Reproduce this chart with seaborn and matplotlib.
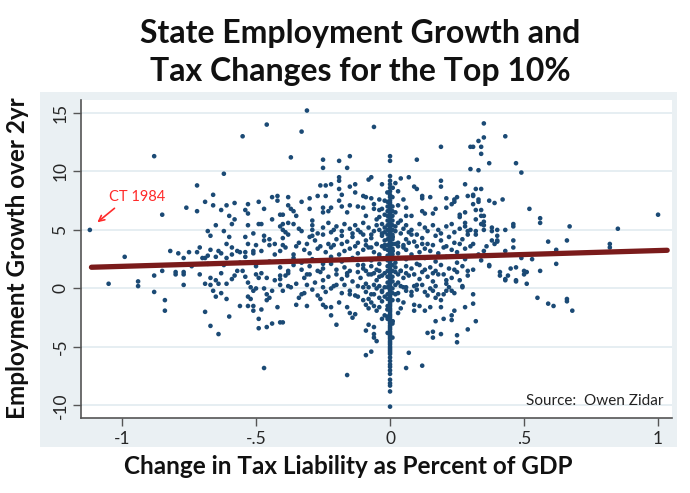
# State employment growth vs. tax changes for the top 10%
# scatter with linear fit, Stata-like look

import numpy as np
import pandas as pd
import matplotlib
matplotlib.use("Agg")
import matplotlib.pyplot as plt
from matplotlib.patches import Rectangle
import seaborn as sns

# ============================================================
# Data
# ============================================================

upper_left = [
    (-0.46, 14.0), (-0.55, 13.0), (-0.88, 11.3), (-0.62, 9.8), (-0.72, 8.8), (-0.66, 8.0),
    (-1.12, 5.0), (-0.85, 6.3), (-0.76, 6.9), (-0.72, 6.6), (-0.69, 7.4), (-0.66, 7.1),
    (-0.63, 6.7), (-0.61, 7.1), (-0.58, 7.3), (-0.60, 6.2), (-0.58, 5.9), (-0.65, 5.4),
    (-0.68, 4.9), (-0.67, 4.5), (-0.62, 4.9), (-0.60, 4.4), (-0.59, 5.5), (-0.99, 2.7),
    (-0.82, 3.2), (-0.79, 3.0), (-0.75, 3.1), (-0.72, 3.1), (-0.71, 3.5), (-0.77, 2.6),
    (-0.69, 2.6), (-0.67, 3.3), (-0.64, 3.2), (-0.61, 3.8), (-0.59, 3.5), (-0.57, 3.2),
    (-0.54, 6.7), (-0.53, 6.4), (-0.53, 7.2), (-0.49, 7.4), (-0.47, 6.8), (-0.44, 7.8),
    (-0.42, 7.9), (-0.42, 7.5), (-0.53, 5.4), (-0.49, 5.5), (-0.48, 5.5), (-0.44, 5.9),
    (-0.51, 4.7), (-0.47, 4.5), (-0.45, 4.2), (-0.43, 3.8), (-0.54, 4.4), (-0.53, 3.8),
    (-0.50, 3.7), (-0.47, 4.1), (-0.54, 3.1), (-0.51, 3.2), (-0.48, 3.2), (-0.45, 3.7),
    (-0.43, 2.9), (-0.40, 5.5), (-0.41, 6.3), (-0.70, 2.6), (-0.68, 2.8), (-0.65, 2.7),
    (-0.63, 3.0), (-0.61, 2.6), (-0.59, 2.9), (-0.56, 3.1), (-0.54, 2.7), (-0.51, 3.0),
    (-0.62, 2.0), (-0.56, 2.2), (-0.50, 1.9), (-0.45, 2.3), (-0.74, 1.9), (-0.68, 2.1),
]

lower_left = [
    (-1.05, 0.4), (-0.94, 0.6), (-0.94, 0.2), (-0.88, 1.1), (-0.85, 1.5), (-0.88, -0.3),
    (-0.84, -1.0), (-0.84, -1.9), (-0.80, 1.4), (-0.80, 1.2), (-0.77, 1.4), (-0.77, 1.2),
    (-0.77, 0.3), (-0.71, 1.2), (-0.69, 0.4), (-0.67, 0.9), (-0.67, 0.3), (-0.66, -0.2),
    (-0.65, -0.7), (-0.63, -0.4), (-0.61, -0.9), (-0.65, 0.7), (-0.64, 0.4), (-0.69, -2.0),
    (-0.67, -3.2), (-0.64, -3.9), (-0.60, -2.4), (-0.63, 1.3), (-0.61, 0.4), (-0.59, 0.8),
    (-0.58, 1.1), (-0.57, 1.5), (-0.55, 1.5), (-0.54, 1.0), (-0.53, 0.5), (-0.52, 0.1),
    (-0.51, -0.2), (-0.53, -0.7), (-0.52, -0.9), (-0.56, -1.5), (-0.53, -1.5), (-0.51, -1.5),
    (-0.51, -1.9), (-0.48, -1.8), (-0.49, -2.6), (-0.49, -3.4), (-0.46, -3.3), (-0.44, -3.0),
    (-0.41, -2.9), (-0.47, -6.8), (-0.46, -1.0), (-0.45, -0.8), (-0.46, -0.5), (-0.44, -0.2),
    (-0.42, -1.6), (-0.47, 0.0), (-0.50, 0.0), (-0.49, 0.9), (-0.46, 0.9), (-0.43, 0.7),
    (-0.41, 0.3), (-0.41, 1.1), (-0.50, 1.2), (-0.48, 1.3),
]

center_upper = [
    (-0.31, 15.2), (-0.33, 13.4), (-0.06, 13.8), (-0.37, 11.2), (-0.25, 11.0), (-0.25, 10.3),
    (-0.19, 10.9), (-0.15, 11.3), (-0.16, 10.3), (0.0, 11.3), (0.0, 10.9), (0.0, 9.6),
    (0.10, 11.0), (0.19, 12.1), (0.30, 12.1), (0.30, 10.2), (-0.19, 9.5), (-0.19, 9.2),
    (-0.07, 9.5), (-0.08, 9.3), (0.04, 9.4), (0.07, 9.5), (0.19, 9.2), (0.19, 8.7),
    (0.28, 8.9), (-0.26, 8.8), (-0.24, 8.8), (-0.22, 8.9), (-0.19, 8.5), (-0.15, 8.7),
    (-0.13, 8.9), (-0.13, 8.2), (-0.24, 7.9), (-0.27, 7.9), (-0.18, 8.0), (-0.10, 7.9),
    (-0.09, 7.8), (-0.07, 7.7), (-0.04, 7.6), (-0.30, 7.7), (-0.38, 7.8), (-0.33, 7.4),
    (0.03, 8.3), (0.10, 8.5), (0.09, 8.7), (0.12, 7.9), (0.12, 7.7), (0.15, 7.8),
    (0.21, 7.7), (0.24, 7.6), (0.25, 7.8), (0.29, 7.9), (0.31, 8.0), (-0.19, 7.5),
    (-0.38, 7.1), (-0.37, 6.8), (-0.36, 6.6), (-0.35, 6.2), (-0.40, 6.3), (-0.38, 5.6),
    (-0.30, 6.8), (-0.29, 5.8), (-0.29, 5.0), (-0.29, 4.5), (-0.25, 6.9), (-0.25, 6.5),
    (-0.23, 6.6), (-0.22, 6.9), (-0.18, 7.0), (-0.15, 7.1), (-0.16, 6.5), (-0.12, 7.0),
    (-0.10, 6.9), (-0.09, 6.2), (-0.06, 6.8), (-0.04, 6.7), (-0.04, 6.1), (-0.02, 6.3),
    (0.06, 6.9), (0.06, 6.2), (0.08, 6.2), (0.12, 6.6), (0.13, 6.4), (0.16, 6.4),
    (0.17, 6.8), (0.21, 6.9), (0.23, 7.2), (0.24, 7.4), (0.26, 6.3), (0.28, 6.5),
    (0.26, 6.1), (0.28, 5.6),
]

center_band = [
    # y ~ 5
    (-0.41, 5.3), (-0.40, 5.0), (-0.36, 5.5), (-0.34, 5.1), (-0.29, 5.4), (-0.25, 5.2),
    (-0.23, 5.6), (-0.21, 5.0), (-0.20, 5.3), (-0.17, 5.5), (-0.15, 5.1), (-0.13, 5.4),
    (-0.12, 5.0), (-0.10, 5.6), (-0.08, 5.2), (-0.05, 5.4), (-0.04, 5.0), (-0.03, 5.5),
    (-0.02, 5.2), (0.02, 5.3), (0.03, 5.6), (0.05, 5.1), (0.06, 5.4), (0.08, 5.0),
    (0.11, 5.5), (0.13, 5.2), (0.16, 5.4), (0.18, 5.0), (0.21, 5.3), (0.23, 5.5),
    (0.26, 5.1), (0.28, 5.3), (0.30, 5.0),
    # y ~ 4.8
    (-0.39, 4.8), (-0.33, 4.9), (-0.27, 4.7), (-0.22, 4.8), (-0.18, 4.9), (-0.14, 4.7),
    (-0.11, 4.8), (-0.07, 4.6), (-0.06, 4.9), (-0.03, 4.7), (-0.02, 4.8), (0.02, 4.9),
    (0.04, 4.7), (0.07, 4.8), (0.10, 4.6), (0.14, 4.9), (0.19, 4.7), (0.24, 4.8),
    (0.29, 4.9),
    # y ~ 4
    (-0.40, 4.3), (-0.38, 4.6), (-0.34, 3.9), (-0.30, 4.4), (-0.28, 4.1), (-0.25, 4.6),
    (-0.23, 3.8), (-0.20, 4.2), (-0.18, 4.5), (-0.16, 4.0), (-0.14, 4.4), (-0.12, 3.9),
    (-0.10, 4.6), (-0.09, 4.1), (-0.07, 4.3), (-0.05, 3.8), (-0.03, 4.5), (-0.02, 4.1),
    (0.01, 4.4), (0.03, 3.9), (0.06, 4.2), (0.08, 4.6), (0.09, 4.0), (0.12, 4.3),
    (0.14, 3.8), (0.17, 4.5), (0.19, 4.1), (0.22, 4.4), (0.24, 3.9), (0.27, 4.2),
    (0.29, 4.6),
    # y ~ 3.7
    (-0.40, 3.7), (-0.35, 3.6), (-0.31, 3.8), (-0.26, 3.6), (-0.21, 3.7), (-0.18, 3.8),
    (-0.13, 3.6), (-0.09, 3.7), (-0.07, 3.5), (-0.05, 3.8), (-0.03, 3.6), (-0.02, 3.7),
    (0.02, 3.8), (0.03, 3.6), (0.05, 3.7), (0.07, 3.9), (0.10, 3.6), (0.12, 3.8),
    (0.16, 3.7), (0.21, 3.6), (0.26, 3.8),
    # y ~ 3
    (-0.41, 3.2), (-0.39, 3.5), (-0.36, 2.9), (-0.32, 3.3), (-0.30, 3.0), (-0.27, 3.4),
    (-0.24, 3.1), (-0.22, 3.5), (-0.19, 2.9), (-0.17, 3.2), (-0.15, 3.4), (-0.12, 3.0),
    (-0.10, 3.3), (-0.08, 3.5), (-0.06, 3.1), (-0.04, 2.9), (-0.02, 3.4), (0.01, 3.2),
    (0.03, 3.0), (0.05, 3.5), (0.06, 3.3), (0.08, 2.9), (0.11, 3.1), (0.13, 3.4),
    (0.15, 3.2), (0.18, 3.0), (0.20, 3.5), (0.23, 3.3), (0.25, 3.1), (0.28, 3.4),
    (0.30, 3.6),
    # y ~ 2.4 (around fit line)
    (-0.36, 2.6), (-0.33, 2.2), (-0.29, 2.5), (-0.25, 2.1), (-0.22, 2.7), (-0.18, 2.3),
    (-0.14, 2.6), (-0.10, 2.0), (-0.07, 2.4), (-0.04, 2.7), (0.02, 2.2), (0.06, 2.5),
    (0.10, 2.1), (0.13, 2.6), (0.17, 2.3), (0.21, 2.7), (0.25, 2.2), (0.28, 2.5),
    # y ~ 1.8
    (-0.41, 1.8), (-0.38, 1.5), (-0.36, 2.0), (-0.33, 1.6), (-0.30, 1.9), (-0.27, 1.5),
    (-0.25, 1.7), (-0.22, 2.1), (-0.20, 1.6), (-0.17, 1.8), (-0.15, 1.5), (-0.12, 2.0),
    (-0.10, 1.7), (-0.09, 1.5), (-0.07, 1.9), (-0.05, 1.6), (-0.04, 2.1), (0.02, 1.8),
    (0.04, 1.5), (0.06, 1.9), (0.08, 1.7), (0.11, 2.0), (0.13, 1.6), (0.15, 1.8),
    (0.17, 1.5), (0.19, 2.0), (0.22, 1.7), (0.24, 1.6), (0.27, 1.9), (0.29, 1.5),
    # y ~ 1.3
    (-0.38, 1.3), (-0.31, 1.2), (-0.26, 1.4), (-0.20, 1.2), (-0.16, 1.3), (-0.12, 1.4),
    (-0.08, 1.2), (-0.06, 1.3), (-0.04, 1.5), (-0.03, 1.1), (-0.02, 1.3), (0.02, 1.4),
    (0.03, 1.2), (0.04, 1.5), (0.06, 1.3), (0.09, 1.2), (0.12, 1.4), (0.16, 1.3),
    (0.20, 1.2), (0.25, 1.4),
    # y ~ 0.8
    (-0.41, 0.8), (-0.39, 1.1), (-0.35, 0.4), (-0.32, 0.9), (-0.30, 1.2), (-0.28, 0.5),
    (-0.25, 0.7), (-0.23, 1.0), (-0.20, 0.3), (-0.18, 0.8), (-0.16, 1.1), (-0.14, 0.6),
    (-0.11, 0.9), (-0.09, 0.4), (-0.07, 1.2), (-0.05, 0.7), (-0.04, 1.0), (0.03, 0.5),
    (0.05, 0.9), (0.07, 1.1), (0.10, 0.3), (0.11, 0.8), (0.14, 1.0), (0.16, 0.6),
    (0.18, 1.2), (0.21, 0.4), (0.23, 0.9), (0.26, 0.7), (0.29, 1.1),
    # y ~ 0.2
    (-0.38, 0.2), (-0.31, 0.3), (-0.25, 0.1), (-0.21, 0.2), (-0.17, 0.3), (-0.12, 0.2),
    (-0.08, 0.1), (-0.06, 0.3), (-0.04, 0.2), (-0.02, 0.1), (0.02, 0.3), (0.04, 0.2),
    (0.05, 0.1), (0.09, 0.2), (0.12, 0.3), (0.17, 0.2), (0.22, 0.1),
    # y ~ -0.2
    (-0.40, -0.2), (-0.37, 0.1), (-0.33, -0.5), (-0.29, -0.1), (-0.27, -0.6), (-0.24, -0.3),
    (-0.22, 0.0), (-0.18, -0.4), (-0.15, -0.2), (-0.13, -0.6), (-0.10, 0.1), (-0.09, -0.3),
    (-0.07, -0.5), (-0.05, 0.0), (-0.03, -0.2), (0.03, -0.4), (0.06, 0.1), (0.08, -0.6),
    (0.10, -0.1), (0.13, -0.3), (0.15, 0.0), (0.18, -0.5), (0.21, -0.2), (0.24, -0.4),
    (0.27, 0.1),
    # close to the zero column
    (-0.05, 5.9), (-0.03, 6.8), (-0.02, 7.5), (-0.06, 7.2), (0.02, 6.5), (0.03, 7.1),
    (0.04, 5.8), (0.05, 7.6), (-0.01, 8.2), (0.01, 8.6), (-0.03, 8.9), (0.02, 9.0),
    (-0.02, -0.7), (-0.01, -1.8), (0.02, -0.5), (0.03, -1.0), (0.01, -2.8), (0.04, -1.7),
]

center_lower = [
    (-0.40, -2.9), (-0.16, -7.4), (-0.09, -5.7), (-0.07, -5.4), (-0.09, -3.6), (-0.08, -3.1),
    (-0.06, -3.3), (-0.06, -4.2), (-0.05, -4.5), (-0.06, -3.9), (-0.20, -3.1), (-0.22, -2.3),
    (-0.14, -2.5), (-0.13, -2.2), (-0.15, -2.1), (-0.03, -2.6), (-0.02, -2.3), (-0.01, -2.4),
    (-0.34, -0.8), (-0.35, -1.4), (-0.31, -1.5), (-0.32, -0.4), (-0.26, -0.9), (-0.25, -1.4),
    (-0.24, -1.6), (-0.22, -1.6), (-0.19, -1.2), (-0.16, -1.6), (-0.15, -0.5), (-0.12, -0.7),
    (-0.10, -1.0), (-0.09, -1.4), (-0.06, -1.5), (-0.05, -1.9), (0.06, -6.8), (0.07, -5.5),
    (0.12, -6.6), (0.14, -3.8), (0.16, -4.2), (0.16, -3.7), (0.19, -3.9), (0.17, -2.8),
    (0.20, -2.6), (0.23, -2.3), (0.23, -2.7), (0.24, -1.9), (0.25, -4.6), (0.25, -4.0),
    (0.29, -3.5), (0.28, -1.6), (0.27, 0.2), (0.03, -2.1), (0.05, -1.2), (0.06, -0.2),
    (0.08, -0.3), (0.09, -1.4), (0.09, -1.9), (0.11, -1.5), (0.13, -1.9), (0.15, -1.6),
    (0.14, -0.6), (0.16, -0.2), (0.17, -0.8), (0.19, -1.6), (0.19, -1.0), (0.20, -0.5),
    (0.23, -0.2), (0.21, 0.7), (-0.08, -0.9), (-0.07, -1.2), (-0.04, -0.8), (-0.03, -1.1),
    (-0.06, -0.5), (-0.04, -1.6), (-0.03, -0.3), (-0.08, -1.7),
]

right_side = [
    (0.35, 14.1), (0.43, 13.0), (0.35, 12.9), (0.33, 12.6), (0.34, 12.1), (0.34, 11.5),
    (0.31, 12.1), (0.37, 10.7), (0.33, 10.1), (0.47, 10.7), (0.49, 9.9), (0.32, 8.5),
    (0.34, 8.5), (0.31, 7.9), (0.33, 7.6), (0.33, 7.4), (0.31, 7.2), (0.32, 6.7),
    (0.34, 6.7), (0.34, 6.2), (0.35, 6.2), (0.32, 5.9), (0.35, 5.7), (0.34, 5.5),
    (0.35, 5.4), (0.37, 7.5), (0.39, 7.3), (0.42, 7.6), (0.52, 6.8), (0.56, 6.0),
    (0.56, 5.6), (0.67, 5.3), (0.46, 5.5), (0.46, 5.3), (0.43, 5.0), (0.40, 5.0),
    (0.38, 5.2), (0.38, 4.9), (0.38, 4.1), (0.40, 4.1), (0.39, 3.8), (0.40, 4.0),
    (0.40, 4.5), (0.32, 4.9), (0.32, 4.6), (0.31, 3.8), (0.35, 5.0), (0.46, 4.1),
    (0.46, 3.5), (0.59, 4.0), (0.66, 4.1), (0.82, 3.8), (0.82, 3.5), (0.85, 5.1),
    (1.00, 6.3), (0.62, 3.3), (0.53, 2.5), (0.49, 2.6), (0.43, 3.2), (0.35, 3.2),
    (0.31, 1.6), (0.31, -0.5), (0.31, -1.3), (0.32, -2.8), (0.37, 2.0), (0.41, 1.4),
    (0.41, 1.1), (0.43, 0.7), (0.44, 1.1), (0.45, 1.7), (0.47, 1.8), (0.47, 0.7),
    (0.50, 1.5), (0.50, 1.2), (0.51, 0.4), (0.56, 1.5), (0.62, 2.1), (0.55, -0.8),
    (0.59, -1.3), (0.61, -1.5), (0.66, -0.9), (0.66, -1.1), (0.68, -1.9), (0.43, 0.8),
    (0.47, 0.6), (0.51, 1.4), (0.37, 1.9), (0.33, 2.9), (0.36, 3.6), (0.34, 2.4),
]

# the vertical stack of states with no tax change
zero_y = [
    -10.1, -8.8, -8.3, -8.1, -7.8, -7.3, -7.0, -6.7, -6.5, -6.2, -5.9,
    -5.6, -5.45, -5.3, -5.15, -5.0, -4.8, -4.65, -4.5, -4.3, -4.15, -4.0, -3.85,
    -3.7, -3.5, -3.35, -3.2, -3.0, -2.85, -2.7, -2.5, -2.35, -2.2, -2.0, -1.85,
    -1.7, -1.5, -1.35, -1.2, -1.0, -0.85, -0.7, -0.5, -0.3, -0.15, 0.0, 0.2, 0.35,
    0.5, 0.65, 0.8, 1.0, 1.15, 1.3, 1.45, 1.6, 1.8, 1.95, 2.1, 2.3, 2.45, 2.6,
    2.8, 2.95, 3.1, 3.3, 3.45, 3.6, 3.8, 3.95, 4.1, 4.3, 4.45, 4.6, 4.8, 4.95,
    5.1, 5.3, 5.45, 5.6, 5.8, 5.95, 6.1, 6.3, 6.5, 6.7, 6.9, 7.1, 7.3, 7.5,
    7.8, 8.0, 8.3, 8.6, 8.9, 9.2,
]
near_zero_left_y = [-3.8, -2.6, -1.5, -0.9, -0.5, 0.1, 0.5, 1.0, 1.5, 1.9, 2.4, 2.8,
                    3.3, 3.7, 4.2, 4.6, 5.0, 5.4, 5.8, 6.2, 6.6, 7.0, 7.4]
near_zero_right_y = [-4.2, -3.0, -1.0, -0.4, 0.0, 0.6, 1.0, 1.5, 2.0, 2.5, 2.9, 3.4,
                     3.8, 4.2, 4.6, 5.0, 5.4, 5.8, 6.2, 6.6, 7.0, 7.8]

# fitted line end points
fit_x = [-1.114, 1.034]
fit_y = [1.81, 3.26]

x_ticks = [-1, -0.5, 0, 0.5, 1]
x_tick_labels = ["-1", "-.5", "0", ".5", "1"]
y_ticks = [-10, -5, 0, 5, 10, 15]
y_tick_labels = ["-10", "-5", "0", "5", "10", "15"]

# ============================================================
# Build data frame
# ============================================================

pairs = upper_left + lower_left + center_upper + center_band + center_lower + right_side
pairs += [(0.0, y) for y in zero_y]
pairs += [(-0.009, y) for y in near_zero_left_y]
pairs += [(0.009, y) for y in near_zero_right_y]
df = pd.DataFrame(pairs, columns=["tax", "emp"])
fit = pd.DataFrame({"tax": fit_x, "emp": fit_y})

# ============================================================
# Plot
# ============================================================

sns.set_style("white")
plt.rcParams["font.family"] = ["Lato", "DejaVu Sans"]

W, H = 690, 493
fig = plt.figure(figsize=(W / 100, H / 100), dpi=100)
fig.patch.set_facecolor("white")

# light graph region behind the plot
bg = Rectangle((40 / W, 1 - 447 / H), (677 - 40) / W, (447 - 92) / H,
               transform=fig.transFigure, facecolor="#EAF0F3",
               edgecolor="none", zorder=-10)
fig.patches.append(bg)

ax = fig.add_axes([81 / W, 1 - 418 / H, (672 - 81) / W, (418 - 100) / H])
ax.set_facecolor("white")
ax.set_zorder(1)

for yv in y_ticks:
    ax.axhline(yv, color="#E4EDF1", lw=1.3, zorder=0)

sns.scatterplot(data=df, x="tax", y="emp", ax=ax, s=11, color="#1B4A75",
                edgecolor="none", linewidth=0, zorder=2, legend=False)
sns.lineplot(data=fit, x="tax", y="emp", ax=ax, color="#7A1B1B", lw=3.8,
             zorder=3, legend=False)

ax.set_xlim(-1.153, 1.052)
ax.set_ylim(-11.07, 16.1)
ax.set_xticks(x_ticks)
ax.set_xticklabels(x_tick_labels, fontsize=12.5)
ax.set_yticks(y_ticks)
ax.set_yticklabels(y_tick_labels, fontsize=12.5, rotation=90, va="center")
ax.tick_params(axis="both", direction="out", length=6, width=1, color="#555555",
               left=True, bottom=True, pad=3)
ax.set_xlabel("")
ax.set_ylabel("")

for side in ["top", "right"]:
    ax.spines[side].set_visible(False)
for side in ["left", "bottom"]:
    ax.spines[side].set_color("#555555")
    ax.spines[side].set_linewidth(1.2)

# annotation
ax.annotate("", xy=(-1.10, 5.5), xytext=(-1.02, 7.0),
            arrowprops=dict(arrowstyle="->", color="#FF2A2A", lw=1.2))
ax.text(-0.944, 7.8, "CT 1984", color="#FF2A2A", fontsize=10.5,
        ha="center", va="center")
ax.text(1.019, -9.6, "Source:  Owen Zidar", color="#222222", fontsize=11,
        ha="right", va="center")

# titles and axis labels
fig.text(360 / W, 1 - 33 / H, "State Employment Growth and", ha="center", va="center",
         fontsize=23, fontweight="bold", color="#111111")
fig.text(360 / W, 1 - 71 / H, "Tax Changes for the Top 10%", ha="center", va="center",
         fontsize=23, fontweight="bold", color="#111111")
fig.text(348 / W, 1 - 467 / H, "Change in Tax Liability as Percent of GDP",
         ha="center", va="center", fontsize=17.5, fontweight="bold", color="#111111")
fig.text(18 / W, 1 - 258 / H, "Employment Growth over 2yr", ha="center",
         va="center", rotation=90, fontsize=17.5, fontweight="bold", color="#111111")

fig.savefig("out.png", dpi=100)
plt.close(fig)
